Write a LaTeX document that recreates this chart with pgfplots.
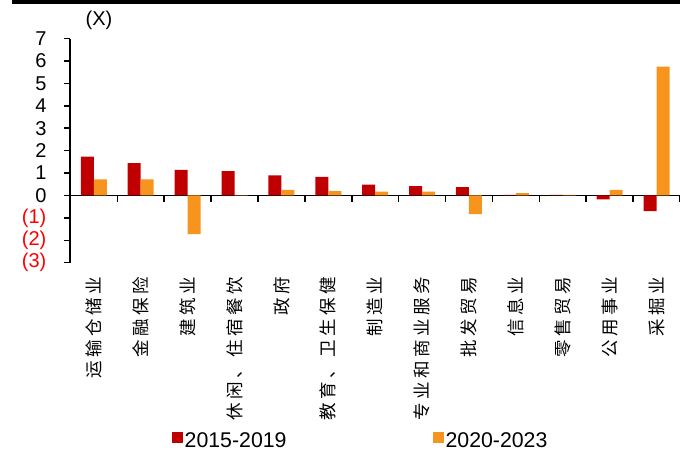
\documentclass[border=0pt]{standalone}
\usepackage{fontspec}
\setmainfont{Liberation Sans}
\newfontfamily\cjk[LetterSpace=20]{Noto Sans CJK SC}
\usepackage{pgfplots}
\usepackage{pgfplotstable}
\pgfplotsset{compat=1.18}

\definecolor{redbar}{HTML}{C00000}
\definecolor{orangebar}{HTML}{F7941D}
\definecolor{negred}{HTML}{FF0000}

\tikzset{lab/.style={rotate=90, anchor=east, inner sep=0pt,
    font=\cjk\fontsize{17.5bp}{20bp}\selectfont}}

% x = sector index, values in multiples (X)
\pgfplotstableread{
x red orange
0 1.73 0.72
1 1.44 0.72
2 1.14 -1.73
3 1.08 0.01
4 0.90 0.25
5 0.83 0.19
6 0.48 0.17
7 0.42 0.17
8 0.37 -0.83
9 0.02 0.10
10 0.02 0.03
11 -0.17 0.25
12 -0.70 5.75
}\sectors

\begin{document}
\begin{tikzpicture}
\useasboundingbox (0,0) rectangle (680bp,455bp);
\fill[black] (12bp,451bp) rectangle (680bp,455bp);
\node[font=\fontsize{20bp}{23bp}\selectfont] at (99bp,435bp) {(X)};
\begin{axis}[
  at={(70.4bp,192.3bp)}, anchor=south west,
  scale only axis,
  width=609.6bp, height=224.2bp,
  xmin=-0.5, xmax=12.5,
  ymin=-3, ymax=7,
  enlargelimits=false,
  clip=false,
  axis x line*=middle,
  axis y line*=left,
  axis line style={line width=1.8bp, black},
  xtick={0.5,1.5,...,12.5},
  xticklabels={},
  ytick={-3,-2,...,7},
  yticklabels={\textcolor{negred}{(3)},\textcolor{negred}{(2)},\textcolor{negred}{(1)},0,1,2,3,4,5,6,7},
  tick align=outside,
  major tick length=6.5bp,
  tick style={black, line width=1.5bp},
  /pgf/number format/assume math mode=true,
  ticklabel style={font=\fontsize{20bp}{23bp}\selectfont},
  yticklabel style={xshift=-14bp},
  ybar=0pt,
  bar width=13bp,
  legend columns=2,
  legend style={at={(0.476,-0.795)}, anchor=center, draw=none, fill=none,
    font=\fontsize{21.3bp}{24bp}\selectfont,
    /tikz/every even column/.append style={column sep=145bp},
    nodes={inner xsep=1.5bp}},
  legend image code/.code={\draw[#1,draw=none] (0bp,-2.5bp) rectangle (11bp,8.5bp);},
]
\addplot[fill=redbar, draw=none] table[x=x, y=red] {\sectors};
\addlegendentry{2015-2019}
\addplot[fill=orangebar, draw=none] table[x=x, y=orange] {\sectors};
\addlegendentry{2020-2023}

\node[lab] at ([yshift=-14bp]axis cs:0,-3) {运输仓储业};
\node[lab] at ([yshift=-14bp]axis cs:1,-3) {金融保险};
\node[lab] at ([yshift=-14bp]axis cs:2,-3) {建筑业};
\node[lab] at ([yshift=-14bp]axis cs:3,-3) {休闲、住宿餐饮};
\node[lab] at ([yshift=-14bp]axis cs:4,-3) {政府};
\node[lab] at ([yshift=-14bp]axis cs:5,-3) {教育、卫生保健};
\node[lab] at ([yshift=-14bp]axis cs:6,-3) {制造业};
\node[lab] at ([yshift=-14bp]axis cs:7,-3) {专业和商业服务};
\node[lab] at ([yshift=-14bp]axis cs:8,-3) {批发贸易};
\node[lab] at ([yshift=-14bp]axis cs:9,-3) {信息业};
\node[lab] at ([yshift=-14bp]axis cs:10,-3) {零售贸易};
\node[lab] at ([yshift=-14bp]axis cs:11,-3) {公用事业};
\node[lab] at ([yshift=-14bp]axis cs:12,-3) {采掘业};
\end{axis}
\end{tikzpicture}
\end{document}
